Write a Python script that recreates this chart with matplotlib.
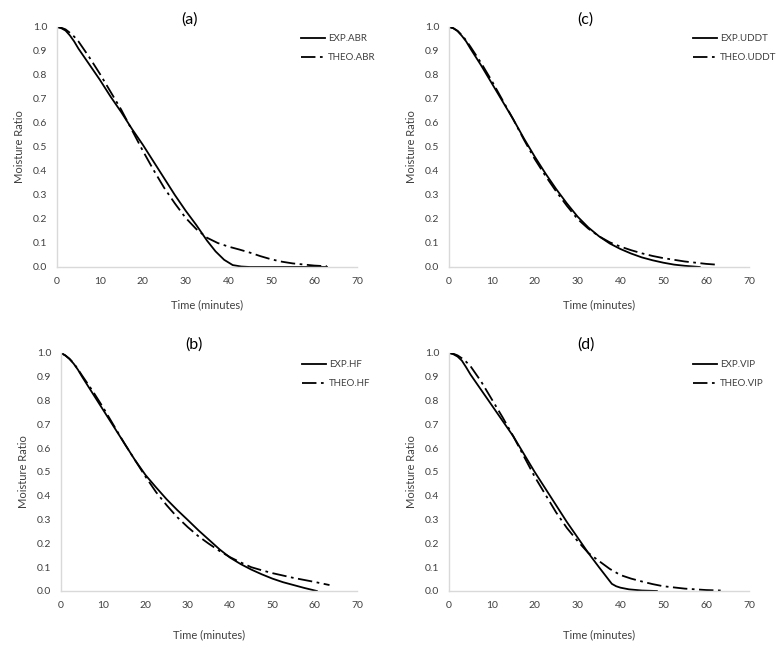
import matplotlib
matplotlib.use("Agg")
import matplotlib.pyplot as plt

plt.rcParams['font.family'] = ['Lato', 'DejaVu Sans']

# (a) ABR
t_exp_abr = [0, 1, 2, 3, 4, 5, 7.5, 10, 12.5, 15, 17.5, 20, 22.5, 25, 27.5, 30, 32.5, 35, 37, 39, 41, 43, 45, 50, 55, 60, 63]
mr_exp_abr = [1.0, 0.995, 0.985, 0.965, 0.94, 0.91, 0.845, 0.78, 0.71, 0.645, 0.575, 0.51, 0.44, 0.37, 0.30, 0.235, 0.175, 0.11, 0.065, 0.03, 0.008, 0.002, 0.0, 0.0, 0.0, 0.0, 0.0]
t_theo_abr = [0, 1, 2, 3, 4, 5, 7.5, 10, 12.5, 15, 17.5, 20, 22.5, 25, 27.5, 30, 32.5, 35, 37.5, 40, 42.5, 45, 47.5, 50, 52.5, 55, 60, 63]
mr_theo_abr = [1.0, 0.997, 0.99, 0.976, 0.96, 0.94, 0.875, 0.805, 0.73, 0.655, 0.57, 0.485, 0.405, 0.33, 0.265, 0.205, 0.158, 0.122, 0.1, 0.085, 0.073, 0.06, 0.045, 0.032, 0.022, 0.015, 0.006, 0.003]

# (c) UDDT
t_exp_uddt = [0, 1, 2, 3, 4, 5, 7.5, 10, 12.5, 15, 17.5, 20, 22.5, 25, 27.5, 30, 32.5, 35, 37.5, 40, 42.5, 45, 47.5, 50, 52.5, 55, 58.5]
mr_exp_uddt = [1.0, 0.995, 0.983, 0.963, 0.94, 0.91, 0.84, 0.765, 0.69, 0.615, 0.535, 0.46, 0.39, 0.325, 0.265, 0.21, 0.165, 0.128, 0.098, 0.075, 0.056, 0.04, 0.028, 0.018, 0.01, 0.005, 0.0]
t_theo_uddt = [0, 1, 2, 3, 4, 5, 7.5, 10, 12.5, 15, 17.5, 20, 22.5, 25, 27.5, 30, 32.5, 35, 37.5, 40, 42.5, 45, 47.5, 50, 55, 60, 63]
mr_theo_uddt = [1.0, 0.995, 0.984, 0.966, 0.944, 0.918, 0.85, 0.775, 0.695, 0.615, 0.53, 0.45, 0.38, 0.315, 0.255, 0.2, 0.16, 0.128, 0.103, 0.085, 0.07, 0.057, 0.046, 0.037, 0.023, 0.013, 0.009]

# (b) HF
t_exp_hf = [0, 1, 2, 3, 4, 5, 7.5, 10, 12.5, 15, 17.5, 20, 22.5, 25, 27.5, 30, 32.5, 35, 37.5, 40, 42.5, 45, 47.5, 50, 52.5, 55, 57.5, 60.5]
mr_exp_hf = [1.0, 0.99, 0.975, 0.955, 0.93, 0.9, 0.83, 0.76, 0.69, 0.62, 0.55, 0.487, 0.435, 0.385, 0.34, 0.298, 0.255, 0.215, 0.175, 0.14, 0.113, 0.09, 0.07, 0.052, 0.037, 0.025, 0.013, 0.0]
t_theo_hf = [0, 1, 2, 3, 4, 5, 7.5, 10, 12.5, 15, 17.5, 20, 22.5, 25, 27.5, 30, 32.5, 35, 37.5, 40, 42.5, 45, 47.5, 50, 55, 60, 63.5]
mr_theo_hf = [1.0, 0.99, 0.976, 0.957, 0.932, 0.905, 0.84, 0.77, 0.695, 0.62, 0.55, 0.48, 0.415, 0.36, 0.31, 0.268, 0.23, 0.198, 0.168, 0.142, 0.12, 0.1, 0.087, 0.075, 0.055, 0.038, 0.025]

# (d) VIP
t_exp_vip = [0, 1, 2, 3, 4, 5, 7.5, 10, 12.5, 15, 17.5, 20, 22.5, 25, 27.5, 30, 32.5, 35, 36.5, 38, 39, 40, 42, 45, 48.5]
mr_exp_vip = [1.0, 0.995, 0.985, 0.968, 0.94, 0.91, 0.845, 0.78, 0.715, 0.65, 0.575, 0.5, 0.43, 0.36, 0.29, 0.225, 0.16, 0.1, 0.065, 0.03, 0.02, 0.014, 0.007, 0.002, 0.0]
t_theo_vip = [0, 1, 2, 3, 4, 5, 7.5, 10, 12.5, 15, 17.5, 20, 22.5, 25, 27.5, 30, 32.5, 35, 37.5, 40, 42.5, 45, 47.5, 50, 55, 60, 63.5]
mr_theo_vip = [1.0, 0.997, 0.99, 0.978, 0.963, 0.945, 0.88, 0.805, 0.73, 0.65, 0.565, 0.48, 0.405, 0.33, 0.265, 0.21, 0.16, 0.126, 0.093, 0.067, 0.052, 0.04, 0.029, 0.02, 0.01, 0.004, 0.002]

panels = [
    ("(a)", "ABR", t_exp_abr, mr_exp_abr, t_theo_abr, mr_theo_abr),
    ("(c)", "UDDT", t_exp_uddt, mr_exp_uddt, t_theo_uddt, mr_theo_uddt),
    ("(b)", "HF", t_exp_hf, mr_exp_hf, t_theo_hf, mr_theo_hf),
    ("(d)", "VIP", t_exp_vip, mr_exp_vip, t_theo_vip, mr_theo_vip),
]

W, H = 784, 650
# axes boxes in pixels: left, top, right, bottom
boxes = [(57, 27, 357, 267), (449, 27, 749, 267), (61, 353, 357, 591), (449, 353, 749, 591)]
title_pos = [(190, 20), (585, 20), (194, 345), (586, 345)]
xlabel_pad = [22, 22, 26, 26]

fig = plt.figure(figsize=(W / 100, H / 100), dpi=100)

for (tag, name, te, me, tt, mt), box, tp, lp in zip(panels, boxes, title_pos, xlabel_pad):
    l, t, r, b = box
    ax = fig.add_axes([l / W, 1 - b / H, (r - l) / W, (b - t) / H])
    ax.plot(te, me, color='black', lw=1.3, label=f"EXP.{name}")
    ax.plot(tt, mt, color='black', lw=1.3, linestyle=(0, (8, 2.5, 1.5, 2.5)), label=f"THEO.{name}")
    ax.set_xlim(0, 70)
    ax.set_ylim(0, 1.0)
    ax.set_xticks(range(0, 71, 10))
    ax.set_yticks([i / 10 for i in range(11)])
    ax.set_yticklabels([f"{i / 10:.1f}" for i in range(11)])
    ax.tick_params(length=0, labelsize=7.5, colors='#404040', pad=7)
    for s in ['top', 'right']:
        ax.spines[s].set_visible(False)
    for s in ['left', 'bottom']:
        ax.spines[s].set_color('#d9d9d9')
        ax.spines[s].set_linewidth(1.0)
    ax.set_xlabel("Time (minutes)", fontsize=8, color='#404040', labelpad=lp - 12)
    ax.set_ylabel("Moisture Ratio", fontsize=8, color='#404040', labelpad=6)
    ax.legend(loc='upper left', bbox_to_anchor=(0.80, 0.985), frameon=False, fontsize=7,
              handlelength=2.5, handletextpad=0.3, labelspacing=1.0, borderaxespad=0,
              labelcolor='#404040')
    fig.text(tp[0] / W, 1 - tp[1] / H, tag, fontsize=11.5, ha='center', va='center', color='black')

fig.savefig("out.png", dpi=100)
